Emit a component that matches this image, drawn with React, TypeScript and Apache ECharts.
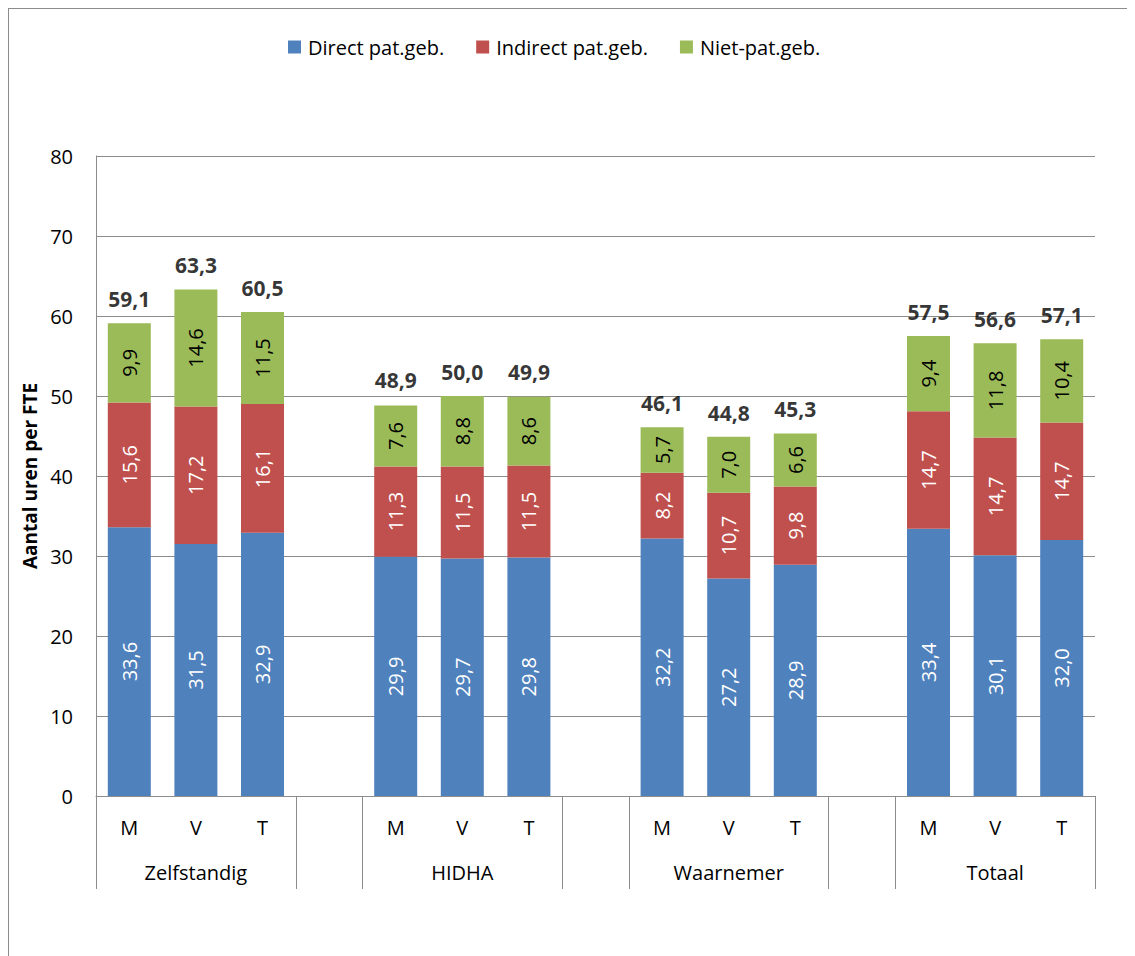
import React, { useEffect, useRef } from "react";
import * as echarts from "echarts";

const groups = ["Zelfstandig", "HIDHA", "Waarnemer", "Totaal"];
const subs = ["M", "V", "T"];

// values per group, in order M, V, T
const directValues = [33.6, 31.5, 32.9, 29.9, 29.7, 29.8, 32.2, 27.2, 28.9, 33.4, 30.1, 32.0];
const indirectValues = [15.6, 17.2, 16.1, 11.3, 11.5, 11.5, 8.2, 10.7, 9.8, 14.7, 14.7, 14.7];
const nietValues = [9.9, 14.6, 11.5, 7.6, 8.8, 8.6, 5.7, 7.0, 6.6, 9.4, 11.8, 10.4];
const totalValues = [59.1, 63.3, 60.5, 48.9, 50.0, 49.9, 46.1, 44.8, 45.3, 57.5, 56.6, 57.1];

const seriesNames = ["Direct pat.geb.", "Indirect pat.geb.", "Niet-pat.geb."];
const colors = ["#4F81BD", "#C0504D", "#9BBB59"];
const yTicks = { min: 0, max: 80, interval: 10 };

const FONT = "Open Sans";

// build the category keys with a gap slot between groups
const keys: string[] = [];
groups.forEach((g, gi) => {
  subs.forEach((s) => keys.push(g + "|" + s));
  if (gi < groups.length - 1) keys.push("gap" + gi + "|");
});

function spread(vals: number[]): (number | string)[] {
  const out: (number | string)[] = [];
  let k = 0;
  keys.forEach((key) => {
    if (key.startsWith("gap")) out.push("-");
    else out.push(vals[k++]);
  });
  return out;
}

const fmt = (v: number) => v.toFixed(1).replace(".", ",");

export default function App() {
  const ref = useRef<HTMLDivElement>(null);
  useEffect(() => {
    document.documentElement.style.overflow = "hidden";
    document.body.style.overflow = "hidden";
    const chart = echarts.init(ref.current!, null, { renderer: "svg" });
    const valueSets = [directValues, indirectValues, nietValues];
    const barSeries = valueSets.map((vals, i) => ({
      name: seriesNames[i],
      type: "bar",
      stack: "total",
      barWidth: 43,
      xAxisIndex: 0,
      data: spread(vals),
      itemStyle: { color: colors[i] },
      label: {
        show: true,
        position: "inside",
        rotate: 90,
        formatter: (p: any) => fmt(p.value),
        color: i === 2 ? "#000" : "#fff",
        fontFamily: FONT,
        fontSize: 20,
      },
    }));
    const option: any = {
      animation: false,
      backgroundColor: "#fff",
      color: colors,
      legend: {
        data: seriesNames,
        left: 274,
        top: 23,
        itemWidth: 13,
        itemHeight: 13,
        itemGap: 32,
        icon: "rect",
        textStyle: { fontFamily: FONT, fontSize: 20, color: "#000", padding: [0, 0, 0, 2] },
      },
      grid: { left: 87, top: 147, width: 999, height: 640, containLabel: false },
      xAxis: [
        {
          type: "category",
          data: keys,
          position: "bottom",
          axisLine: { show: true, lineStyle: { color: "#8c8c8c", width: 1 } },
          axisTick: {
            show: true,
            length: 93,
            interval: (index: number) => {
              const k = keys[index];
              return k.startsWith("gap") || k.endsWith("|M");
            },
            lineStyle: { color: "#8c8c8c", width: 1 },
          },
          axisLabel: {
            interval: 0,
            margin: 21,
            fontFamily: FONT,
            fontSize: 20,
            color: "#000",
            formatter: (v: string) => v.split("|")[1],
          },
          splitLine: { show: false },
        },
        {
          type: "category",
          data: keys,
          position: "bottom",
          gridIndex: 0,
          axisLine: { show: false },
          axisTick: { show: false },
          splitLine: { show: false },
          axisLabel: {
            interval: 0,
            margin: 66,
            fontFamily: FONT,
            fontSize: 20,
            color: "#000",
            formatter: (v: string) => {
              const [g, s] = v.split("|");
              return s === "V" ? g : "";
            },
          },
        },
      ],
      yAxis: {
        type: "value",
        min: yTicks.min,
        max: yTicks.max,
        interval: yTicks.interval,
        name: "Aantal uren per FTE",
        nameLocation: "middle",
        nameGap: 56,
        nameTextStyle: { fontFamily: FONT, fontSize: 19, fontWeight: "bold", color: "#000" },
        axisLine: { show: true, lineStyle: { color: "#8c8c8c", width: 1 } },
        axisTick: { show: false },
        axisLabel: { margin: 23, fontFamily: FONT, fontSize: 20, color: "#000" },
        splitLine: { show: true, lineStyle: { color: "#8c8c8c", width: 1 } },
      },
      series: [
        ...barSeries,
        {
          name: "Totaal",
          type: "scatter",
          xAxisIndex: 0,
          symbolSize: 0,
          data: spread(totalValues),
          silent: true,
          label: {
            show: true,
            position: "top",
            distance: 14,
            formatter: (p: any) => fmt(p.value),
            fontFamily: FONT,
            fontSize: 21,
            lineHeight: 21,
            fontWeight: "bold",
            color: "#000",
          },
          z: 5,
        },
      ],
    };
    chart.setOption(option);
    return () => chart.dispose();
  }, []);
  return (
    <div
      style={{
        boxSizing: "border-box",
        width: 1127,
        height: 948,
        borderLeft: "1px solid #8c8c8c",
        borderTop: "1px solid #8c8c8c",
        background: "#fff",
      }}
    >
      <div ref={ref} style={{ width: 1126, height: 947 }} />
    </div>
  );
}
